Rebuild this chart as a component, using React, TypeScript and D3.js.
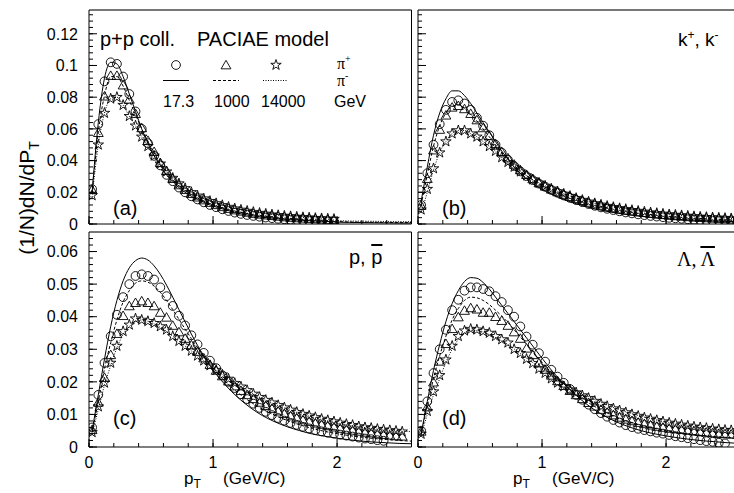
import React from 'react';
import * as d3 from 'd3';

// bin centres of the markers (GeV/c)
const MARK_PT = [
  0.025, 0.075, 0.125, 0.175, 0.225, 0.275, 0.325, 0.375, 0.425, 0.475,
  0.525, 0.575, 0.625, 0.675, 0.725, 0.775, 0.825, 0.875, 0.925, 0.975,
  1.025, 1.075, 1.125, 1.175, 1.225, 1.275, 1.325, 1.375, 1.425, 1.475,
  1.525, 1.575, 1.625, 1.675, 1.725, 1.775, 1.825, 1.875, 1.925, 1.975,
  2.025, 2.075, 2.125, 2.175, 2.225, 2.275, 2.325, 2.375, 2.425, 2.475,
  2.525, 2.575,
];
// sample points of the model curves
const LINE_PT = [
  0.025, 0.075, 0.125, 0.175, 0.225, 0.275, 0.325, 0.375, 0.425, 0.475,
  0.525, 0.575, 0.625, 0.675, 0.725, 0.775, 0.825, 0.875, 0.925, 0.975,
  1.1, 1.2, 1.3, 1.4, 1.5, 1.6, 1.7, 1.8, 1.9, 2.0, 2.1, 2.2, 2.3, 2.4, 2.5, 2.6,
];

// (a) pions
const PI_CIRC = [0.022, 0.063, 0.090, 0.102, 0.101, 0.093, 0.082, 0.071, 0.060, 0.051,
  0.043, 0.037, 0.031, 0.027, 0.023, 0.020, 0.0175, 0.0155, 0.0137, 0.012,
  0.0106, 0.0093, 0.0082, 0.0072, 0.0064, 0.0057, 0.0051, 0.0046, 0.0041, 0.0037,
  0.0033, 0.003, 0.0027, 0.0025, 0.0023, 0.0021, 0.0019, 0.0017, 0.0016, 0.0015];
const PI_TRI = [0.021, 0.057, 0.080, 0.093, 0.093, 0.087, 0.078, 0.069, 0.060, 0.052,
  0.045, 0.038, 0.033, 0.028, 0.024, 0.021, 0.0185, 0.0163, 0.0145, 0.0129,
  0.0115, 0.0102, 0.0091, 0.0082, 0.0074, 0.0067, 0.006, 0.0055, 0.005, 0.0046,
  0.0042, 0.0038, 0.0035, 0.0032, 0.003, 0.0028, 0.0026, 0.0024, 0.0022, 0.002];
const PI_STAR = [0.018, 0.050, 0.070, 0.079, 0.080, 0.075, 0.068, 0.062, 0.055, 0.049,
  0.043, 0.038, 0.033, 0.029, 0.0255, 0.0225, 0.020, 0.0178, 0.016, 0.0144,
  0.013, 0.0118, 0.0107, 0.0097, 0.0089, 0.0082, 0.0075, 0.0069, 0.0064, 0.0059,
  0.0055, 0.0051, 0.0048, 0.0045, 0.0042, 0.004, 0.0037, 0.0035, 0.0033, 0.0031];
const PI_SOLID = [0.020, 0.064, 0.092, 0.102, 0.101, 0.093, 0.082, 0.071, 0.060, 0.051,
  0.043, 0.037, 0.031, 0.027, 0.023, 0.020, 0.0175, 0.0155, 0.0137, 0.012,
  0.009, 0.0068, 0.0054, 0.0043, 0.0035, 0.0028, 0.0024, 0.002, 0.0017, 0.0012,
  0.001, 0.0009, 0.0008, 0.0007, 0.0006, 0.0006];
const PI_DASH = [0.019, 0.058, 0.081, 0.093, 0.093, 0.087, 0.078, 0.069, 0.060, 0.052,
  0.045, 0.038, 0.033, 0.028, 0.024, 0.021, 0.0185, 0.0163, 0.0145, 0.0129,
  0.0097, 0.0078, 0.0063, 0.0052, 0.0044, 0.0037, 0.0031, 0.0027, 0.0023, 0.0016,
  0.0013, 0.0012, 0.0011, 0.001, 0.0009, 0.0009];
const PI_DOT = [0.017, 0.050, 0.070, 0.079, 0.080, 0.075, 0.068, 0.062, 0.055, 0.049,
  0.043, 0.038, 0.033, 0.029, 0.0255, 0.0225, 0.020, 0.0178, 0.016, 0.0144,
  0.0112, 0.0093, 0.0078, 0.0066, 0.0057, 0.0049, 0.0043, 0.0038, 0.0034, 0.0022,
  0.0019, 0.0018, 0.0017, 0.0016, 0.0015, 0.0015];

// (b) kaons
const K_CIRC = [0.012, 0.032, 0.050, 0.063, 0.072, 0.077, 0.078, 0.076, 0.072, 0.067,
  0.062, 0.056, 0.050, 0.045, 0.0405, 0.0366, 0.0332, 0.0302, 0.0277, 0.0255,
  0.0235, 0.0215, 0.0197, 0.018, 0.0165, 0.0151, 0.0138, 0.0126, 0.0115, 0.0105,
  0.0096, 0.0088, 0.008, 0.0073, 0.0067, 0.0061, 0.0056, 0.0051, 0.0047, 0.0043,
  0.0039, 0.0036, 0.0033, 0.003, 0.0027, 0.0025, 0.0023, 0.0021, 0.0019, 0.0017,
  0.0016, 0.0015];
const K_TRI = [0.011, 0.028, 0.046, 0.059, 0.068, 0.073, 0.074, 0.072, 0.069, 0.065,
  0.060, 0.055, 0.050, 0.045, 0.041, 0.037, 0.0335, 0.0305, 0.0278, 0.0253,
  0.0232, 0.0213, 0.0196, 0.018, 0.0166, 0.0153, 0.0141, 0.013, 0.012, 0.0111,
  0.0102, 0.0095, 0.0088, 0.0081, 0.0075, 0.007, 0.0065, 0.006, 0.0056, 0.0052,
  0.0048, 0.0045, 0.0042, 0.0039, 0.0036, 0.0034, 0.0032, 0.003, 0.0028, 0.0026,
  0.0024, 0.0023];
const K_STAR = [0.009, 0.022, 0.035, 0.045, 0.052, 0.057, 0.059, 0.059, 0.057, 0.055,
  0.052, 0.049, 0.046, 0.042, 0.039, 0.036, 0.033, 0.0305, 0.028, 0.026,
  0.024, 0.0222, 0.0205, 0.019, 0.0176, 0.0163, 0.0151, 0.014, 0.013, 0.0121,
  0.0113, 0.0106, 0.0099, 0.0093, 0.0087, 0.0082, 0.0077, 0.0072, 0.0068, 0.0064,
  0.006, 0.0057, 0.0054, 0.0051, 0.0048, 0.0045, 0.0043, 0.0041, 0.0039, 0.0037,
  0.0035, 0.0033];
const K_SOLID = [0.014, 0.036, 0.056, 0.070, 0.079, 0.084, 0.084, 0.081, 0.076, 0.070,
  0.064, 0.058, 0.052, 0.046, 0.041, 0.036, 0.032, 0.0285, 0.0255, 0.023,
  0.018, 0.0148, 0.0122, 0.01, 0.0083, 0.0069, 0.0058, 0.0048, 0.004, 0.0034,
  0.0029, 0.0025, 0.0021, 0.0018, 0.0016, 0.0014];
const K_DASH = [0.012, 0.031, 0.049, 0.062, 0.070, 0.074, 0.075, 0.073, 0.069, 0.065,
  0.060, 0.055, 0.050, 0.045, 0.041, 0.037, 0.0335, 0.0305, 0.0278, 0.0253,
  0.0205, 0.0173, 0.0147, 0.0125, 0.0107, 0.0092, 0.0079, 0.0068, 0.0058, 0.005,
  0.0044, 0.0038, 0.0034, 0.003, 0.0026, 0.0024];
const K_DOT = [0.007, 0.020, 0.034, 0.045, 0.052, 0.057, 0.059, 0.059, 0.057, 0.055,
  0.052, 0.049, 0.046, 0.042, 0.039, 0.036, 0.033, 0.0305, 0.028, 0.026,
  0.0214, 0.0183, 0.0157, 0.0135, 0.0117, 0.0102, 0.009, 0.0079, 0.007, 0.0062,
  0.0055, 0.0049, 0.0044, 0.004, 0.0036, 0.0033];

// (c) protons
const P_CIRC = [0.006, 0.016, 0.0258, 0.034, 0.0406, 0.046, 0.050, 0.0525, 0.053, 0.0525,
  0.0514, 0.049, 0.0463, 0.0433, 0.0403, 0.0373, 0.0343, 0.0315, 0.0289, 0.0265,
  0.0242, 0.022, 0.02, 0.0181, 0.0162, 0.0147, 0.0133, 0.012, 0.0108, 0.0098,
  0.0089, 0.0081, 0.0074, 0.0068, 0.0062, 0.0057, 0.0052, 0.0048, 0.0044, 0.0041,
  0.0038, 0.0035, 0.0032, 0.0029, 0.0026, 0.0024, 0.0021, 0.0019];
const P_TRI = [0.005, 0.0134, 0.021, 0.028, 0.0345, 0.040, 0.043, 0.044, 0.0445, 0.044,
  0.043, 0.041, 0.0395, 0.037, 0.035, 0.033, 0.031, 0.029, 0.027, 0.025,
  0.0232, 0.0215, 0.0199, 0.0184, 0.017, 0.0157, 0.0145, 0.0134, 0.0124, 0.0115,
  0.0107, 0.0099, 0.0092, 0.0086, 0.008, 0.0075, 0.007, 0.0066, 0.0062, 0.0058,
  0.0054, 0.0051, 0.0048, 0.0045, 0.0042, 0.004, 0.0037, 0.0035, 0.0033, 0.0031,
  0.003];
const P_STAR = [0.0045, 0.0124, 0.0197, 0.0258, 0.031, 0.0355, 0.0375, 0.0394, 0.039, 0.0386,
  0.038, 0.037, 0.036, 0.034, 0.0325, 0.031, 0.0295, 0.028, 0.0265, 0.025,
  0.0236, 0.0222, 0.0209, 0.0196, 0.0185, 0.0174, 0.0163, 0.0153, 0.0144, 0.0136,
  0.0128, 0.0121, 0.0114, 0.0107, 0.0101, 0.0096, 0.0091, 0.0086, 0.0082, 0.0078,
  0.0074, 0.007, 0.0067, 0.0063, 0.006, 0.0058, 0.0055, 0.0053, 0.0051, 0.0049,
  0.0047];
const P_SOLID = [0.005, 0.016, 0.027, 0.037, 0.045, 0.051, 0.055, 0.0572, 0.058, 0.0574,
  0.0556, 0.053, 0.0497, 0.046, 0.0422, 0.0384, 0.0347, 0.0312, 0.028, 0.025,
  0.019, 0.0152, 0.0121, 0.0096, 0.0077, 0.0062, 0.005, 0.004, 0.0033, 0.0027,
  0.0022, 0.0018, 0.0015, 0.0013, 0.0011, 0.001];
const P_DASH = [0.0045, 0.014, 0.024, 0.032, 0.039, 0.0445, 0.048, 0.0503, 0.051, 0.0506,
  0.0494, 0.0475, 0.045, 0.0422, 0.0392, 0.0362, 0.0333, 0.0305, 0.0279, 0.0255,
  0.02, 0.0167, 0.0139, 0.0116, 0.0097, 0.0081, 0.0068, 0.0057, 0.0048, 0.0041,
  0.0035, 0.003, 0.0026, 0.0023, 0.002, 0.0018];
const P_DOT = [0.004, 0.0115, 0.019, 0.025, 0.0305, 0.0345, 0.037, 0.0385, 0.039, 0.0386,
  0.0378, 0.0367, 0.0355, 0.034, 0.0325, 0.031, 0.0295, 0.028, 0.0265, 0.025,
  0.0216, 0.0191, 0.0168, 0.0148, 0.0131, 0.0116, 0.0103, 0.0092, 0.0082, 0.0074,
  0.0067, 0.0061, 0.0056, 0.0052, 0.0049, 0.0047];

// (d) lambdas
const L_CIRC = [0.005, 0.014, 0.0227, 0.030, 0.036, 0.042, 0.0452, 0.048, 0.049, 0.049,
  0.0485, 0.0478, 0.0463, 0.0445, 0.042, 0.040, 0.037, 0.0339, 0.0314, 0.0288,
  0.0262, 0.0237, 0.0216, 0.0197, 0.0178, 0.016, 0.0145, 0.013, 0.0116, 0.0104,
  0.0093, 0.0083, 0.0075, 0.0067, 0.0061, 0.0056, 0.0052, 0.0048, 0.0044, 0.0041,
  0.0037, 0.0033, 0.003, 0.0027, 0.0024, 0.0021, 0.0018, 0.0016, 0.0013, 0.0011];
const L_TRI = [0.0045, 0.012, 0.0196, 0.026, 0.0314, 0.036, 0.0396, 0.0416, 0.0424, 0.042,
  0.041, 0.041, 0.0397, 0.0385, 0.037, 0.035, 0.033, 0.030, 0.028, 0.0255,
  0.0235, 0.0217, 0.02, 0.0185, 0.017, 0.0157, 0.0145, 0.0133, 0.0122, 0.0112,
  0.0103, 0.0095, 0.0088, 0.0082, 0.0077, 0.0072, 0.0068, 0.0064, 0.006, 0.0057,
  0.0054, 0.0052, 0.005, 0.0048, 0.0046, 0.0044, 0.0042, 0.004, 0.0038, 0.0037,
  0.0036, 0.0035];
const L_STAR = [0.004, 0.011, 0.017, 0.022, 0.0268, 0.031, 0.034, 0.0357, 0.0362, 0.036,
  0.0355, 0.035, 0.034, 0.033, 0.032, 0.030, 0.0288, 0.027, 0.0257, 0.024,
  0.0227, 0.021, 0.0197, 0.0186, 0.0176, 0.0167, 0.0158, 0.015, 0.0141, 0.0132,
  0.0125, 0.0118, 0.0112, 0.0106, 0.01, 0.0095, 0.009, 0.0086, 0.0082, 0.0078,
  0.0074, 0.0071, 0.0068, 0.0065, 0.0062, 0.006, 0.0058, 0.0056, 0.0054, 0.0052,
  0.0051, 0.005];
const L_SOLID = [0.004, 0.014, 0.0235, 0.0315, 0.0385, 0.044, 0.048, 0.0508, 0.052, 0.0518,
  0.0505, 0.0485, 0.046, 0.0435, 0.041, 0.0385, 0.036, 0.0335, 0.031, 0.0285,
  0.0225, 0.0185, 0.015, 0.012, 0.0096, 0.0077, 0.0062, 0.005, 0.0041, 0.0034,
  0.0028, 0.0023, 0.0019, 0.0016, 0.0013, 0.0011];
const L_DASH = [0.004, 0.0125, 0.021, 0.028, 0.034, 0.039, 0.0425, 0.045, 0.046, 0.0458,
  0.045, 0.0437, 0.042, 0.0402, 0.0382, 0.036, 0.0338, 0.0315, 0.0292, 0.027,
  0.022, 0.0185, 0.0155, 0.013, 0.0109, 0.0092, 0.0078, 0.0067, 0.0058, 0.005,
  0.0044, 0.0039, 0.0035, 0.0032, 0.0029, 0.0027];
const L_DOT = [0.0035, 0.010, 0.016, 0.021, 0.026, 0.030, 0.033, 0.035, 0.0358, 0.0358,
  0.0353, 0.0345, 0.0336, 0.0326, 0.0314, 0.0301, 0.0287, 0.0273, 0.0259, 0.0245,
  0.0212, 0.019, 0.0169, 0.015, 0.0133, 0.0118, 0.0105, 0.0094, 0.0085, 0.0076,
  0.0069, 0.0063, 0.0058, 0.0054, 0.0051, 0.0049];

const X_LABELS = ['0', '1', '2'];
const Y_TOP_TICKS = [0, 0.02, 0.04, 0.06, 0.08, 0.1, 0.12];
const Y_TOP_LABELS = ['0', '0.02', '0.04', '0.06', '0.08', '0.1', '0.12'];
const Y_BOT_TICKS = [0, 0.01, 0.02, 0.03, 0.04, 0.05, 0.06];
const Y_BOT_LABELS = ['0', '0.01', '0.02', '0.03', '0.04', '0.05', '0.06'];
const ENERGIES = ['17.3', '1000', '14000'];

const W = 734;
const H = 493;
const COLS: [number, number][] = [[89, 411.5], [418, 740.5]];
const ROWS: [number, number][] = [[10, 224], [232, 447]];
const X_MAX = 2.6;
const SANS = '"Liberation Sans", Arial, Helvetica, sans-serif';
const SERIF = '"Liberation Serif", "Times New Roman", serif';

const triPath = d3.symbol(d3.symbolTriangle, 42)() as string;
const starPath = d3.symbol(d3.symbolStar, 34)() as string;

type Cfg = {
  id: string; col: number; row: number; yMax: number; minor: number;
  circ: number[]; tri: number[]; star: number[];
  solid: number[]; dash: number[]; dot: number[];
};

const PANELS: Cfg[] = [
  { id: 'a', col: 0, row: 0, yMax: 0.135, minor: 0.004, circ: PI_CIRC, tri: PI_TRI, star: PI_STAR, solid: PI_SOLID, dash: PI_DASH, dot: PI_DOT },
  { id: 'b', col: 1, row: 0, yMax: 0.135, minor: 0.004, circ: K_CIRC, tri: K_TRI, star: K_STAR, solid: K_SOLID, dash: K_DASH, dot: K_DOT },
  { id: 'c', col: 0, row: 1, yMax: 0.066, minor: 0.002, circ: P_CIRC, tri: P_TRI, star: P_STAR, solid: P_SOLID, dash: P_DASH, dot: P_DOT },
  { id: 'd', col: 1, row: 1, yMax: 0.066, minor: 0.002, circ: L_CIRC, tri: L_TRI, star: L_STAR, solid: L_SOLID, dash: L_DASH, dot: L_DOT },
];

function Panel({ cfg }: { cfg: Cfg }) {
  const [x0, x1] = COLS[cfg.col];
  const [y0, y1] = ROWS[cfg.row];
  const x = d3.scaleLinear().domain([0, X_MAX]).range([x0, x1]);
  const y = d3.scaleLinear().domain([0, cfg.yMax]).range([y1, y0]);
  const line = d3.line<number>().x((_, i) => x(LINE_PT[i])).y((d) => y(d)).curve(d3.curveMonotoneX);
  const top = cfg.row === 0;
  const majorY = top ? Y_TOP_TICKS : Y_BOT_TICKS;
  const labelsY = top ? Y_TOP_LABELS : Y_BOT_LABELS;
  const minorY = d3.range(0, cfg.yMax, cfg.minor);
  const minorX = d3.range(0, X_MAX, 0.2);
  const clip = `clip-${cfg.id}`;

  return (
    <g>
      <defs>
        <clipPath id={clip}>
          <rect x={x0} y={y0} width={x1 - x0} height={y1 - y0} />
        </clipPath>
      </defs>
      <g clipPath={`url(#${clip})`}>
        <path d={line(cfg.solid) || ''} fill="none" stroke="#000" strokeWidth={1} />
        <path d={line(cfg.dash) || ''} fill="none" stroke="#000" strokeWidth={1} strokeDasharray="3,2" />
        <path d={line(cfg.dot) || ''} fill="none" stroke="#000" strokeWidth={1} strokeDasharray="1,1.5" />
        {cfg.circ.map((v, i) => (
          <circle key={`c${i}`} cx={x(MARK_PT[i])} cy={y(v)} r={4.4} fill="none" stroke="#000" strokeWidth={0.9} />
        ))}
        {cfg.tri.map((v, i) => (
          <path key={`t${i}`} d={triPath} transform={`translate(${x(MARK_PT[i])},${y(v)})`} fill="none" stroke="#000" strokeWidth={0.9} />
        ))}
        {cfg.star.map((v, i) => (
          <path key={`s${i}`} d={starPath} transform={`translate(${x(MARK_PT[i])},${y(v)})`} fill="none" stroke="#000" strokeWidth={0.9} />
        ))}
      </g>
      {/* frame */}
      <line x1={x0} x2={x1} y1={y0} y2={y0} stroke="#777" strokeWidth={2} />
      <line x1={x0} x2={x0} y1={y0} y2={y1} stroke="#000" strokeWidth={1} />
      <line x1={x1} x2={x1} y1={y0} y2={y1} stroke="#000" strokeWidth={1} />
      <line x1={x0} x2={x1} y1={y1} y2={y1} stroke="#000" strokeWidth={1} />
      {minorY.map((v, i) => (
        <line key={`my${i}`} x1={x0} x2={x0 + 4} y1={y(v)} y2={y(v)} stroke="#000" strokeWidth={1} />
      ))}
      {majorY.map((v, i) => (
        <line key={`My${i}`} x1={x0} x2={x0 + 8} y1={y(v)} y2={y(v)} stroke="#000" strokeWidth={1} />
      ))}
      {minorX.map((v, i) => (
        <line key={`mx${i}`} x1={x(v)} x2={x(v)} y1={y1} y2={y1 - 4} stroke="#000" strokeWidth={1} />
      ))}
      {[0, 1, 2].map((v) => (
        <line key={`Mx${v}`} x1={x(v)} x2={x(v)} y1={y1} y2={y1 - 8} stroke="#000" strokeWidth={1} />
      ))}
      {cfg.col === 0 && majorY.map((v, i) => (
        <text key={`ly${i}`} x={x0 - 11} y={y(v)} dy="0.36em" textAnchor="end" fontSize={16}>{labelsY[i]}</text>
      ))}
      {!top && X_LABELS.map((t, i) => (
        <text key={`lx${i}`} x={x(i)} y={468} textAnchor="middle" fontSize={16}>{t}</text>
      ))}
      {!top && (
        <g fontSize={17}>
          <text x={x0 + 95} y={484}>p<tspan dy={4} fontSize={12}>T</tspan></text>
          <text x={x0 + 134} y={484}>(GeV/C)</text>
        </g>
      )}
      <text x={x0 + 24} y={top ? 215 : 425} fontSize={20}>({cfg.id})</text>
    </g>
  );
}

export default function App() {
  return (
    <svg width={W} height={H} style={{ position: 'absolute', left: 0, top: 0, background: '#fff' }}
      fontFamily={SANS}>
      <rect width={W} height={H} fill="#fff" />
      {PANELS.map((p) => <Panel key={p.id} cfg={p} />)}

      {/* y axis title */}
      <text transform="translate(34,198) rotate(-90)" textAnchor="middle" fontSize={21}>
        (1/N)dN/dP<tspan dy={5} fontSize={14}>T</tspan>
      </text>

      {/* header and legend in (a) */}
      <text x={100} y={46} fontSize={20}>p+p coll.</text>
      <text x={197} y={46} fontSize={20}>PACIAE model</text>
      <circle cx={176} cy={65} r={4.4} fill="none" stroke="#000" strokeWidth={0.9} />
      <path d={triPath} transform="translate(226,66)" fill="none" stroke="#000" strokeWidth={0.9} />
      <path d={starPath} transform="translate(276,65)" fill="none" stroke="#000" strokeWidth={0.9} />
      <line x1={163} x2={189} y1={80.5} y2={80.5} stroke="#000" strokeWidth={1} />
      <line x1={213} x2={239} y1={80.5} y2={80.5} stroke="#000" strokeWidth={1} strokeDasharray="3,2" />
      <line x1={263} x2={288} y1={80.5} y2={80.5} stroke="#000" strokeWidth={1} strokeDasharray="1,1.5" />
      {ENERGIES.map((e, i) => (
        <text key={e} x={[163, 214, 261][i]} y={107} fontSize={16}>{e}</text>
      ))}
      <text x={334} y={107} fontSize={16}>GeV</text>
      <text x={337} y={69} fontSize={16} fontFamily={SERIF}>π<tspan dy={-7} fontSize={10}>+</tspan></text>
      <text x={337} y={86} fontSize={16} fontFamily={SERIF}>π<tspan dy={-7} fontSize={10}>-</tspan></text>

      {/* species labels */}
      <text x={678} y={46} fontSize={19}>k<tspan dy={-7} fontSize={12}>+</tspan><tspan dy={7}>, k</tspan><tspan dy={-7} fontSize={12}>-</tspan></text>
      <text x={349} y={264} fontSize={20}>p, <tspan style={{ textDecoration: 'overline' }}>p</tspan></text>
      <text x={677} y={266} fontSize={20} fontFamily={SERIF}>Λ, <tspan style={{ textDecoration: 'overline' }}>Λ</tspan></text>
    </svg>
  );
}
